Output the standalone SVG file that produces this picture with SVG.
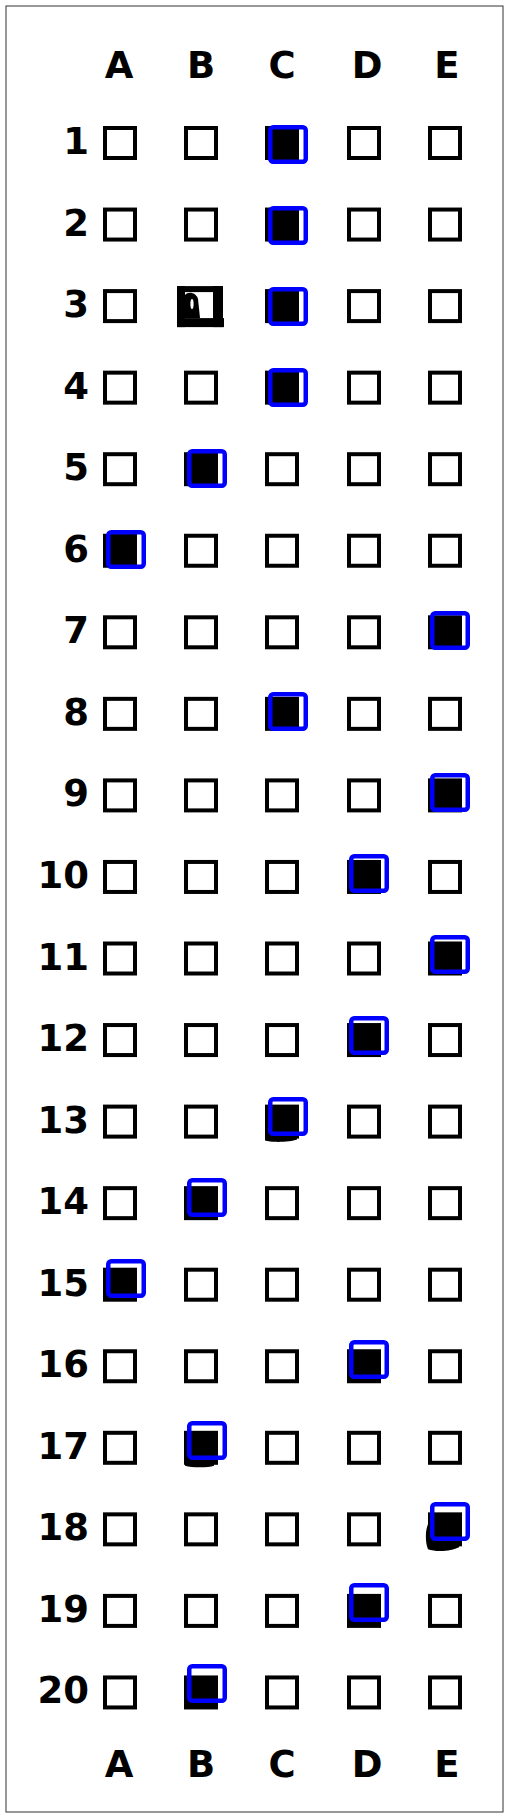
<svg xmlns="http://www.w3.org/2000/svg" xmlns:xlink="http://www.w3.org/1999/xlink" width="510" height="1818" viewBox="0 0 510 1818">
<style>
.lbl{font-family:"DejaVu Sans","Liberation Sans",sans-serif;font-weight:bold;font-size:37px;fill:#000}
.col{text-anchor:middle}
.num{text-anchor:end}
</style>
<defs>
<rect id="b" x="2" y="2" width="30" height="30" fill="none" stroke="#000" stroke-width="4"/>
<rect id="f" x="0" y="0" width="34" height="34" fill="#000"/>
<rect id="m" x="2.25" y="2.25" width="35.5" height="34.5" rx="3" fill="none" stroke="#0000ff" stroke-width="4.5"/>
</defs>
<rect x="0" y="0" width="510" height="1818" fill="#fff"/>
<rect x="6" y="6" width="497" height="1806" fill="none" stroke="#333" stroke-width="1"/>
<g id="header">
<text class="lbl col" x="119" y="78">A</text>
<text class="lbl col" x="201" y="78">B</text>
<text class="lbl col" x="282" y="78">C</text>
<text class="lbl col" x="367" y="78">D</text>
<text class="lbl col" x="447" y="78">E</text>
</g>
<g id="footer">
<text class="lbl col" x="119" y="1777">A</text>
<text class="lbl col" x="201" y="1777">B</text>
<text class="lbl col" x="282" y="1777">C</text>
<text class="lbl col" x="367" y="1777">D</text>
<text class="lbl col" x="447" y="1777">E</text>
</g>
<g id="row1" transform="translate(0,126)">
<text class="lbl num" x="89" y="28">1</text>
<use xlink:href="#b" x="103"/><use xlink:href="#b" x="184"/><use xlink:href="#f" x="265"/><use xlink:href="#b" x="347"/><use xlink:href="#b" x="428"/>
</g>
<g id="row2" transform="translate(0,207.55)">
<text class="lbl num" x="89" y="28">2</text>
<use xlink:href="#b" x="103"/><use xlink:href="#b" x="184"/><use xlink:href="#f" x="265"/><use xlink:href="#b" x="347"/><use xlink:href="#b" x="428"/>
</g>
<g id="row3" transform="translate(0,289.1)">
<text class="lbl num" x="89" y="28">3</text>
<use xlink:href="#b" x="103"/>
<rect x="177" y="-3" width="46" height="6" fill="#000"/>
<rect x="177" y="29" width="47" height="9" fill="#000"/>
<rect x="177" y="-3" width="8" height="41" fill="#000"/>
<rect x="213" y="-3" width="10" height="41" fill="#000"/>
<path d="M185,6 C188,2 196,3 198,10 L200,29 L185,29 Z" fill="#000"/>
<ellipse cx="192" cy="15" rx="1.6" ry="5" fill="#fff"/>
<use xlink:href="#f" x="265"/><use xlink:href="#b" x="347"/><use xlink:href="#b" x="428"/>
</g>
<g id="row4" transform="translate(0,370.65)">
<text class="lbl num" x="89" y="28">4</text>
<use xlink:href="#b" x="103"/><use xlink:href="#b" x="184"/><use xlink:href="#f" x="265"/><use xlink:href="#b" x="347"/><use xlink:href="#b" x="428"/>
</g>
<g id="row5" transform="translate(0,452.2)">
<text class="lbl num" x="89" y="28">5</text>
<use xlink:href="#b" x="103"/><use xlink:href="#f" x="184"/><use xlink:href="#b" x="265"/><use xlink:href="#b" x="347"/><use xlink:href="#b" x="428"/>
</g>
<g id="row6" transform="translate(0,533.75)">
<text class="lbl num" x="89" y="28">6</text>
<use xlink:href="#f" x="103"/><use xlink:href="#b" x="184"/><use xlink:href="#b" x="265"/><use xlink:href="#b" x="347"/><use xlink:href="#b" x="428"/>
</g>
<g id="row7" transform="translate(0,615.3)">
<text class="lbl num" x="89" y="28">7</text>
<use xlink:href="#b" x="103"/><use xlink:href="#b" x="184"/><use xlink:href="#b" x="265"/><use xlink:href="#b" x="347"/><use xlink:href="#f" x="428"/>
</g>
<g id="row8" transform="translate(0,696.85)">
<text class="lbl num" x="89" y="28">8</text>
<use xlink:href="#b" x="103"/><use xlink:href="#b" x="184"/><use xlink:href="#f" x="265"/><use xlink:href="#b" x="347"/><use xlink:href="#b" x="428"/>
</g>
<g id="row9" transform="translate(0,778.4)">
<text class="lbl num" x="89" y="28">9</text>
<use xlink:href="#b" x="103"/><use xlink:href="#b" x="184"/><use xlink:href="#b" x="265"/><use xlink:href="#b" x="347"/><use xlink:href="#f" x="428"/>
</g>
<g id="row10" transform="translate(0,859.95)">
<text class="lbl num" x="89" y="28">10</text>
<use xlink:href="#b" x="103"/><use xlink:href="#b" x="184"/><use xlink:href="#b" x="265"/><use xlink:href="#f" x="347"/><use xlink:href="#b" x="428"/>
</g>
<g id="row11" transform="translate(0,941.5)">
<text class="lbl num" x="89" y="28">11</text>
<use xlink:href="#b" x="103"/><use xlink:href="#b" x="184"/><use xlink:href="#b" x="265"/><use xlink:href="#b" x="347"/><use xlink:href="#f" x="428"/>
</g>
<g id="row12" transform="translate(0,1023.05)">
<text class="lbl num" x="89" y="28">12</text>
<use xlink:href="#b" x="103"/><use xlink:href="#b" x="184"/><use xlink:href="#b" x="265"/><use xlink:href="#f" x="347"/><use xlink:href="#b" x="428"/>
</g>
<g id="row13" transform="translate(0,1104.6)">
<text class="lbl num" x="89" y="28">13</text>
<use xlink:href="#b" x="103"/><use xlink:href="#b" x="184"/><use xlink:href="#f" x="265"/><use xlink:href="#b" x="347"/><use xlink:href="#b" x="428"/>
<path d="M265,30 L265,36 C270,38 290,38 297,35 L297,30 Z" fill="#000"/>
</g>
<g id="row14" transform="translate(0,1186.15)">
<text class="lbl num" x="89" y="28">14</text>
<use xlink:href="#b" x="103"/><use xlink:href="#f" x="184"/><use xlink:href="#b" x="265"/><use xlink:href="#b" x="347"/><use xlink:href="#b" x="428"/>
</g>
<g id="row15" transform="translate(0,1267.7)">
<text class="lbl num" x="89" y="28">15</text>
<use xlink:href="#f" x="103"/><use xlink:href="#b" x="184"/><use xlink:href="#b" x="265"/><use xlink:href="#b" x="347"/><use xlink:href="#b" x="428"/>
</g>
<g id="row16" transform="translate(0,1349.25)">
<text class="lbl num" x="89" y="28">16</text>
<use xlink:href="#b" x="103"/><use xlink:href="#b" x="184"/><use xlink:href="#b" x="265"/><use xlink:href="#f" x="347"/><use xlink:href="#b" x="428"/>
</g>
<g id="row17" transform="translate(0,1430.8)">
<text class="lbl num" x="89" y="28">17</text>
<use xlink:href="#b" x="103"/><use xlink:href="#f" x="184"/><use xlink:href="#b" x="265"/><use xlink:href="#b" x="347"/><use xlink:href="#b" x="428"/>
<path d="M185,30 L185,35 C192,37 208,37 214,35 L214,30 Z" fill="#000"/>
</g>
<g id="row18" transform="translate(0,1512.35)">
<text class="lbl num" x="89" y="28">18</text>
<use xlink:href="#b" x="103"/><use xlink:href="#b" x="184"/><use xlink:href="#b" x="265"/><use xlink:href="#b" x="347"/><use xlink:href="#f" x="428"/>
<path d="M429,10 C425,16 425,30 428,37 C436,40 452,39 459,35 L460,30 L429,30 Z" fill="#000"/>
</g>
<g id="row19" transform="translate(0,1593.9)">
<text class="lbl num" x="89" y="28">19</text>
<use xlink:href="#b" x="103"/><use xlink:href="#b" x="184"/><use xlink:href="#b" x="265"/><use xlink:href="#f" x="347"/><use xlink:href="#b" x="428"/>
</g>
<g id="row20" transform="translate(0,1675.45)">
<text class="lbl num" x="89" y="28">20</text>
<use xlink:href="#b" x="103"/><use xlink:href="#f" x="184"/><use xlink:href="#b" x="265"/><use xlink:href="#b" x="347"/><use xlink:href="#b" x="428"/>
</g>
<g id="marks">
<use xlink:href="#m" x="268" y="125"/>
<use xlink:href="#m" x="268" y="206"/>
<use xlink:href="#m" x="268" y="287"/>
<use xlink:href="#m" x="268" y="368"/>
<use xlink:href="#m" x="187" y="449"/>
<use xlink:href="#m" x="106" y="530"/>
<use xlink:href="#m" x="430" y="611"/>
<use xlink:href="#m" x="268" y="692"/>
<use xlink:href="#m" x="430" y="773"/>
<use xlink:href="#m" x="349" y="854"/>
<use xlink:href="#m" x="430" y="935"/>
<use xlink:href="#m" x="349" y="1016"/>
<use xlink:href="#m" x="268" y="1097"/>
<use xlink:href="#m" x="187" y="1178"/>
<use xlink:href="#m" x="106" y="1259"/>
<use xlink:href="#m" x="349" y="1340"/>
<use xlink:href="#m" x="187" y="1421"/>
<use xlink:href="#m" x="430" y="1502"/>
<use xlink:href="#m" x="349" y="1583"/>
<use xlink:href="#m" x="187" y="1664"/>
</g>
</svg>
